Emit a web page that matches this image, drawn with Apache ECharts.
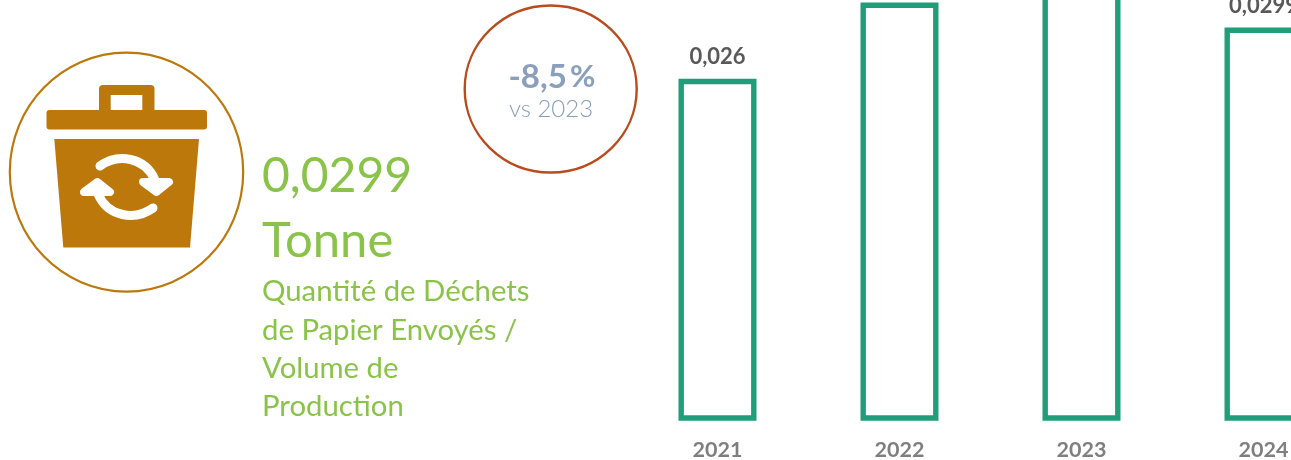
<!DOCTYPE html>
<html><head><meta charset="utf-8">
<style>html,body{margin:0;padding:0;background:#fff}#c{width:1291px;height:460px}</style>
<script src="https://cdn.jsdelivr.net/npm/echarts@6/dist/echarts.min.js"></script>
</head><body><div id="c"></div>
<script>
const years = ['2021','2022','2023','2024'];
const wasteValues = [0.026, 0.0318, 0.0327, 0.0299];
const valueLabels = ['0,026','0,0318','0,0327','0,0299'];
const kpiValue = '0,0299';
const kpiUnit = 'Tonne';
const kpiDesc = ['Quantité de Déchets','de Papier Envoyés /','Volume de','Production'];
const deltaText = '-8,5';
const deltaUnit = '%';
const deltaSub = 'vs 2023';

const GREEN='#1F9E79', BROWN='#BC780B', KPI='#8AC349', SLATE='#8A9FBB';
const chart = echarts.init(document.getElementById('c'),null,{renderer:'canvas'});
const white={stroke:'#fff',fill:null,lineWidth:9,lineCap:'round'};
const whiteFill={fill:'#fff',stroke:'#fff',lineWidth:8,lineJoin:'round'};
const graphic=[
 {type:'ellipse',shape:{cx:126.5,cy:172.1,rx:116.7,ry:119.5},style:{fill:null,stroke:BROWN,lineWidth:2.2}},
 {type:'rect',shape:{x:99,y:85,width:55.5,height:27,r:[4,4,0,0]},style:{fill:BROWN}},
 {type:'rect',shape:{x:110.7,y:95,width:31.6,height:15},style:{fill:'#fff'}},
 {type:'rect',shape:{x:46.5,y:110,width:160.5,height:19.5,r:3},style:{fill:BROWN}},
 {type:'polygon',shape:{points:[[54.3,139],[199,139],[190,247.5],[63.3,247.5]]},style:{fill:BROWN}},
 {type:'bezierCurve',shape:{x1:100,y1:166,cpx1:118,cpy1:153,cpx2:145,cpy2:157,x2:155,y2:180},style:white},
 {type:'polygon',shape:{points:[[143,182],[156.5,192],[169,182]]},style:whiteFill},
 {type:'bezierCurve',shape:{x1:153,y1:208,cpx1:135,cpy1:221,cpx2:108,cpy2:217,x2:98,y2:194},style:white},
 {type:'polygon',shape:{points:[[84,192],[97.5,182],[110,192]]},style:whiteFill},
 {type:'text',style:{text:kpiValue,x:262,y:177,font:'48px Lato, sans-serif',fill:KPI,verticalAlign:'middle'}},
 {type:'text',style:{text:kpiUnit,x:262,y:241,font:'49px Lato, sans-serif',fill:KPI,verticalAlign:'middle'}},
 ...kpiDesc.map((t,i)=>({type:'text',style:{text:t,x:262,y:292+i*38.3,font:'29.3px Lato, sans-serif',fill:KPI,verticalAlign:'middle'}})),
 {type:'ellipse',shape:{cx:550.7,cy:89,rx:86,ry:83.5},style:{fill:null,stroke:'#B84C1C',lineWidth:2.4}},
 {type:'text',style:{x:552,y:77,align:'center',verticalAlign:'middle',
   text:'{a|'+deltaText+'} {b|'+deltaUnit+'}',
   rich:{a:{font:'bold 33px Lato, sans-serif',fill:SLATE},b:{font:'bold 31px Lato, sans-serif',fill:SLATE}}}},
 {type:'text',style:{text:deltaSub,x:551,y:109,font:'300 24px Lato, sans-serif',fill:SLATE,align:'center',verticalAlign:'middle'}}
];
chart.setOption({
 animation:false,
 backgroundColor:'#fff',
 graphic,
 grid:{left:626.5,top:-39.5,width:728,height:460.2,outerBoundsMode:'none',containLabel:false},
 xAxis:{type:'category',data:years,axisLine:{show:false},axisTick:{show:false},
  axisLabel:{color:'#7F7F7F',fontFamily:'Lato, sans-serif',fontWeight:'bold',fontSize:21.5,margin:18,interval:0,hideOverlap:false}},
 yAxis:{type:'value',min:0,max:0.035,show:false,splitLine:{show:false}},
 series:[{type:'bar',data:wasteValues,barWidth:78,clip:false,
  itemStyle:{color:'#fff',borderColor:GREEN,borderWidth:5.4},
  label:{show:true,position:'top',distance:11,color:'#595959',fontFamily:'Lato, sans-serif',fontWeight:'bold',fontSize:22,
   formatter:p=>valueLabels[p.dataIndex]}}]
});
</script></body></html>
